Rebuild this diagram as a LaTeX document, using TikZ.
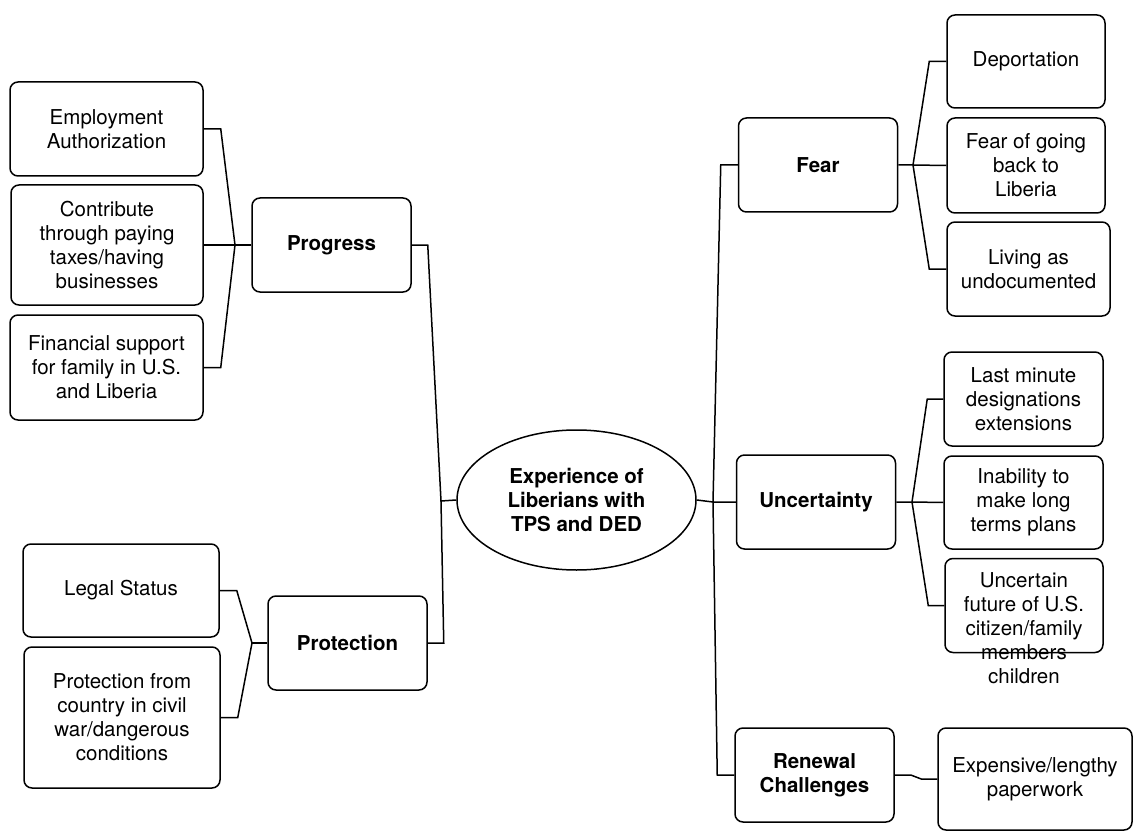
\documentclass[tikz,border=0pt]{standalone}
\usepackage{fontspec}
\setmainfont{TeX Gyre Heros}
\usetikzlibrary{shapes.geometric,calc,positioning}

\begin{document}
\begin{tikzpicture}[x=1pt,y=-1pt,
  leaf/.style={rectangle, rounded corners=8pt, draw, line width=1.5pt, align=center, inner sep=2pt, font=\fontsize{20.5}{24}\selectfont},
  topic/.style={leaf, font=\fontsize{20.5}{24}\selectfont\bfseries, minimum width=159pt, minimum height=94pt},
  hub/.style={ellipse, draw, line width=1.5pt, align=center, inner sep=2pt, minimum width=239pt, minimum height=140pt, font=\fontsize{20.5}{24}\selectfont\bfseries},
  link/.style={line width=1.5pt}
]
\useasboundingbox (0,0) rectangle (1136,840);

% Centre
\node[hub] (hub) at (576.5,500) {Experience of\\Liberians with\\TPS and DED};

% Topics
\node[topic] (progress) at (331.5,245) {Progress};
\node[topic] (protection) at (347.5,643) {Protection};
\node[topic] (fear) at (818,165) {Fear};
\node[topic] (uncert) at (816,502) {Uncertainty};
\node[topic] (renewal) at (814.5,775) {Renewal\\Challenges};

% Leaves, left
\node[leaf, minimum width=193pt, minimum height=94pt] (emp) at (106.5,129) {Employment\\Authorization};
\node[leaf, minimum width=192pt, minimum height=120pt] (contrib) at (107,245) {Contribute\\through paying\\taxes/having\\businesses};
\node[leaf, minimum width=193pt, minimum height=105pt] (fin) at (106.5,367.5) {Financial support\\for family in U.S.\\and Liberia};
\node[leaf, minimum width=196pt, minimum height=93pt] (legal) at (121,590.5) {Legal Status};
\node[leaf, minimum width=196pt, minimum height=141pt] (shelter) at (122,717.5) {Protection from\\country in civil\\war/dangerous\\conditions};

% Leaves, right
\node[leaf, minimum width=158pt, minimum height=93pt] (deport) at (1026,61.5) {Deportation};
\node[leaf, minimum width=158pt, minimum height=95pt] (goback) at (1026,165.5) {Fear of going\\back to\\Liberia};
\node[leaf, minimum width=163pt, minimum height=94pt] (undoc) at (1028.5,269) {Living as\\undocumented};
\node[leaf, minimum width=159pt, minimum height=94pt] (lastmin) at (1023.5,399) {Last minute\\designations\\extensions};
\node[leaf, minimum width=159pt, minimum height=93pt] (plans) at (1023.5,502.5) {Inability to\\make long\\terms plans};
\node[leaf, minimum width=158pt, minimum height=94pt] (future) at (1024,605.5) {};
\node[align=center, font=\fontsize{20.5}{24}\selectfont] (futuretext) at (1024,628) {Uncertain\\future of U.S.\\citizen/family\\members\\children};
\node[leaf, minimum width=194pt, minimum height=102pt] (paper) at (1035,779) {Expensive/lengthy\\paperwork};

% Junctions
\coordinate (jleft) at (441,501);
\coordinate (jright) at (713,502);
\coordinate (jprog) at (235,245);
\coordinate (jprot) at (252,643);
\coordinate (jfear) at (913,165);
\coordinate (junc) at (912,502);

% Trunk
\draw[link] (hub.west) -- (jleft) -- ($(progress.east)+(16,0)$) -- (progress.east);
\draw[link] (jleft) -- ($(protection.east)+(16,0)$) -- (protection.east);
\draw[link] (hub.east) -- (jright) -- (uncert.west);
\draw[link] (jright) -- ($(fear.west)+(-17,0)$) -- (fear.west);
\draw[link] (jright) -- ($(renewal.west)+(-17,0)$) -- (renewal.west);

% Branches
\draw[link] (progress.west) -- (jprog) -- (contrib.east);
\foreach \leafname in {emp,fin} {
  \draw[link] (jprog) -- ($(\leafname.east)+(17,0)$) -- (\leafname.east);
}
\draw[link] (protection.west) -- (jprot);
\foreach \leafname in {legal,shelter} {
  \draw[link] (jprot) -- ($(\leafname.east)+(17,0)$) -- (\leafname.east);
}
\draw[link] (fear.east) -- (jfear) -- (goback.west);
\foreach \leafname in {deport,undoc} {
  \draw[link] (jfear) -- ($(\leafname.west)+(-17,0)$) -- (\leafname.west);
}
\draw[link] (uncert.east) -- (junc) -- (plans.west);
\foreach \leafname in {lastmin,future} {
  \draw[link] (junc) -- ($(\leafname.west)+(-16,0)$) -- (\leafname.west);
}
\draw[link] (renewal.east) -- ++(16,0) -- ($(paper.west)+(-16,0)$) -- (paper.west);

\end{tikzpicture}
\end{document}
